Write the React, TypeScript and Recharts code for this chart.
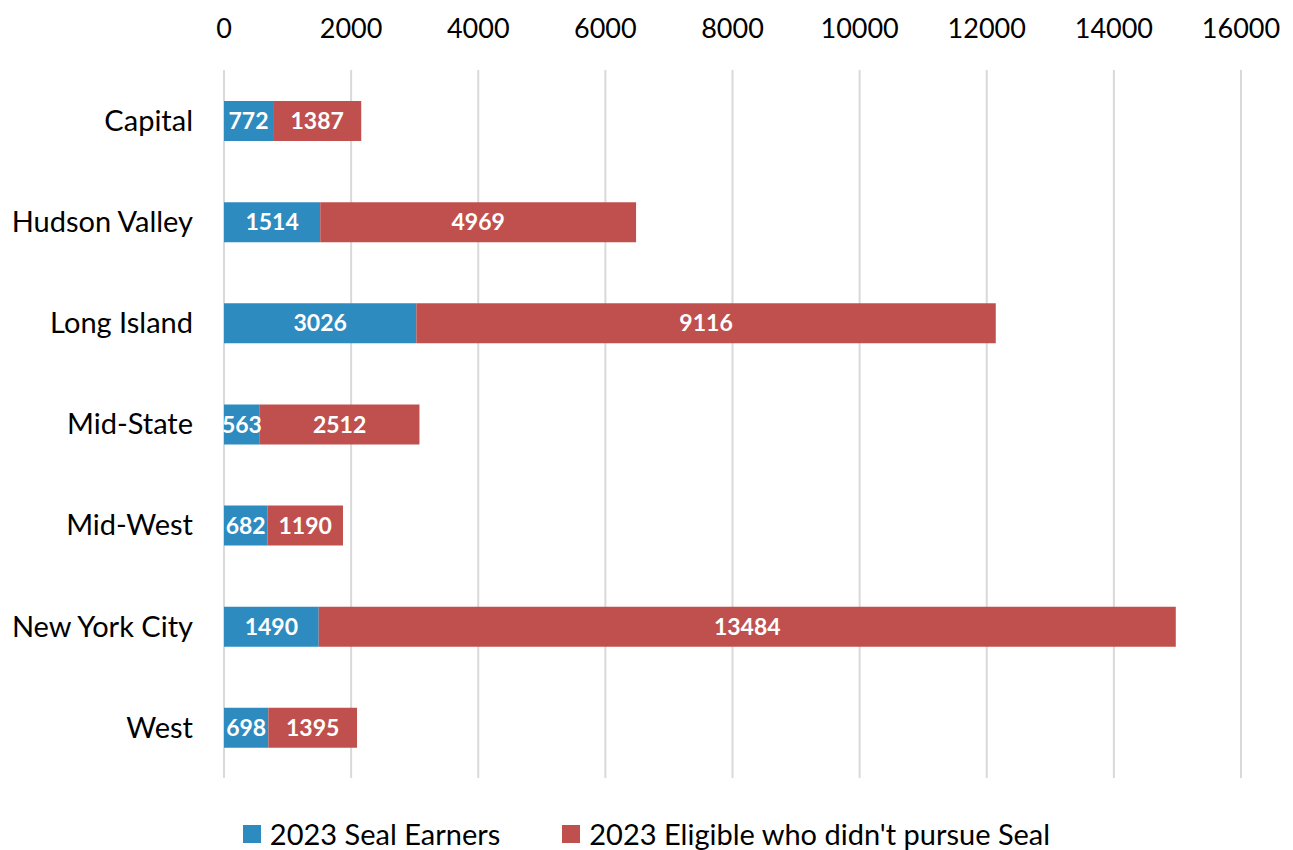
import { Bar, BarChart, CartesianGrid, LabelList, Legend, XAxis, YAxis } from "recharts";

const regions = ["Capital", "Hudson Valley", "Long Island", "Mid-State", "Mid-West", "New York City", "West"];
const sealEarners = [772, 1514, 3026, 563, 682, 1490, 698];
const eligibleNotPursued = [1387, 4969, 9116, 2512, 1190, 13484, 1395];
const xTicks = [0, 2000, 4000, 6000, 8000, 10000, 12000, 14000, 16000];

const BLUE = "#2E8BC0";
const RED = "#C0504D";
const FONT = "Lato, 'Open Sans', sans-serif";

const data = regions.map((region, i) => ({
  region,
  earners: sealEarners[i],
  eligible: eligibleNotPursued[i],
}));

const legendItems = [
  { label: "2023 Seal Earners", color: BLUE },
  { label: "2023 Eligible who didn't pursue Seal", color: RED },
];

function ChartLegend() {
  return (
    <div style={{ display: "flex", justifyContent: "center", gap: 62, fontFamily: FONT, fontSize: 29, color: "#000", lineHeight: "32px" }}>
      {legendItems.map((it) => (
        <span key={it.label} style={{ display: "flex", alignItems: "center" }}>
          <span style={{ width: 18, height: 18, background: it.color, display: "inline-block", marginRight: 9 }} />
          {it.label}
        </span>
      ))}
    </div>
  );
}

export default function App() {
  return (
    <div style={{ position: "absolute", left: 0, top: 0, width: 1293, height: 850, background: "#fff" }}>
      <BarChart
        width={1293}
        height={850}
        data={data}
        layout="vertical"
        margin={{ top: 0, right: 52, left: 0, bottom: 0 }}
        barSize={40}
      >
        <CartesianGrid horizontal={false} stroke="#D9D9D9" strokeWidth={2} />
        <XAxis
          type="number"
          orientation="top"
          domain={[0, 16000]}
          ticks={xTicks}
          height={70}
          axisLine={false}
          tickLine={false}
          tickMargin={26}
          tick={{ fill: "#000", fontSize: 27, fontFamily: FONT }}
        />
        <YAxis
          type="category"
          dataKey="region"
          width={224}
          axisLine={false}
          tickLine={false}
          tickMargin={25}
          tick={{ fill: "#000", fontSize: 29, fontFamily: FONT }}
        />
        <Legend
          verticalAlign="bottom"
          height={72}
          content={() => <ChartLegend />}
          wrapperStyle={{ top: 818, left: 0, width: 1293, bottom: "auto" }}
        />
        <Bar dataKey="earners" stackId="a" fill={BLUE} isAnimationActive={false}>
          <LabelList dataKey="earners" position="center" fill="#fff" fontSize={23} fontWeight="bold" fontFamily={FONT} />
        </Bar>
        <Bar dataKey="eligible" stackId="a" fill={RED} isAnimationActive={false}>
          <LabelList dataKey="eligible" position="center" fill="#fff" fontSize={23} fontWeight="bold" fontFamily={FONT} />
        </Bar>
      </BarChart>
    </div>
  );
}
